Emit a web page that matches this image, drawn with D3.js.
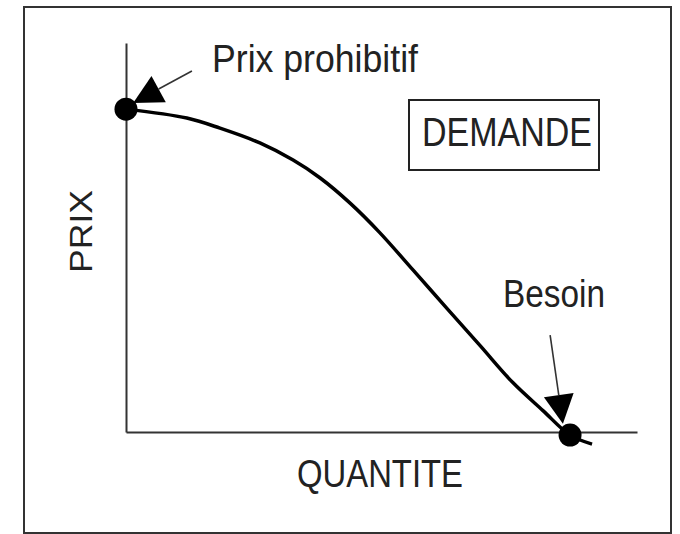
<!DOCTYPE html>
<html>
<head>
<meta charset="utf-8">
<script src="https://cdn.jsdelivr.net/npm/d3@7"></script>
<style>
  body { margin: 0; background: #fff; }
  text { font-family: "Liberation Sans", Arial, sans-serif; fill: #222; }
</style>
</head>
<body>
<div id="chart"></div>
<script>
// demand curve (quantity 0..10, price 0..10)
let quantite = [0, 1.19, 1.84, 2.62, 3.27, 3.80, 4.38, 4.97, 5.62, 6.28, 6.93, 7.57, 8.16, 8.69, 9.12]
let prix     = [8.30, 8.07, 7.81, 7.43, 6.99, 6.53, 5.89, 5.12, 4.16, 3.18, 2.22, 1.27, 0.55, -0.08, -0.31]

// the two marked points
let pointNames = ["Prix prohibitif", "Besoin"]
let pointQ = [0, 8.69]
let pointP = [8.30, -0.08]

// arrows: start of shaft -> tip
let arrowFromQ = [1.29, 8.30]
let arrowFromP = [9.28, 2.49]
let arrowToQ = [0.14, 8.55]
let arrowToP = [8.46, 0.21]

let axisTitles = ["QUANTITE", "PRIX"]
let boxTitle = "DEMANDE"

let width = 680, height = 534
let svg = d3.select("#chart").append("svg")
  .attr("width", width)
  .attr("height", height)

// outer frame
svg.append("rect")
  .attr("x", 24).attr("y", 7)
  .attr("width", 647).attr("height", 526)
  .attr("fill", "none")
  .attr("stroke", "#333")
  .attr("stroke-width", 2)

let x = d3.scaleLinear().domain([0, 10]).range([126, 637])
let y = d3.scaleLinear().domain([0, 10]).range([432, 43])

// axes (no ticks, just the lines)
svg.append("g")
  .attr("transform", `translate(0, ${y(0)})`)
  .call(d3.axisBottom(x).tickValues([]).tickSizeOuter(0))
  .select(".domain").attr("stroke", "#333").attr("stroke-width", 2)
svg.append("g")
  .attr("transform", `translate(${x(0)}, 0)`)
  .call(d3.axisLeft(y).tickValues([]).tickSizeOuter(0))
  .select(".domain").attr("stroke", "#333").attr("stroke-width", 2)

// curve
let curveData = quantite.map((q, i) => ({q: q, p: prix[i]}))
let line = d3.line()
  .x(d => x(d.q))
  .y(d => y(d.p))
  .curve(d3.curveCatmullRom.alpha(0.5))
svg.append("path")
  .datum(curveData)
  .attr("d", line)
  .attr("fill", "none")
  .attr("stroke", "#000")
  .attr("stroke-width", 3.5)

// arrows with big filled heads
arrowFromQ.forEach(function (q0, i) {
  let x0 = x(q0), y0 = y(arrowFromP[i])
  let x1 = x(arrowToQ[i]), y1 = y(arrowToP[i])
  let len = Math.hypot(x1 - x0, y1 - y0)
  let ux = (x1 - x0) / len, uy = (y1 - y0) / len
  let headL = 29, headW = 15
  let bx = x1 - ux * headL, by = y1 - uy * headL
  svg.append("line")
    .attr("x1", x0).attr("y1", y0)
    .attr("x2", bx).attr("y2", by)
    .attr("stroke", "#333")
    .attr("stroke-width", 1.6)
  svg.append("path")
    .attr("d", `M${x1},${y1}L${bx - uy * headW},${by + ux * headW}L${bx + uy * headW},${by - ux * headW}Z`)
    .attr("fill", "#000")
})

// dots
svg.selectAll(".dot")
  .data(pointQ)
  .enter()
  .append("circle")
    .attr("class", "dot")
    .attr("cx", d => x(d))
    .attr("cy", (d, i) => y(pointP[i]))
    .attr("r", 11.5)
    .attr("fill", "#000")

// labels
svg.append("text")
  .attr("x", 212).attr("y", 72)
  .attr("font-size", 39)
  .attr("textLength", 206).attr("lengthAdjust", "spacingAndGlyphs")
  .text(pointNames[0])
svg.append("text")
  .attr("x", 503).attr("y", 307)
  .attr("font-size", 39)
  .attr("textLength", 102).attr("lengthAdjust", "spacingAndGlyphs")
  .text(pointNames[1])

// DEMANDE box
svg.append("rect")
  .attr("x", 409).attr("y", 100)
  .attr("width", 190).attr("height", 70)
  .attr("fill", "none")
  .attr("stroke", "#222")
  .attr("stroke-width", 2)
svg.append("text")
  .attr("x", 422).attr("y", 146)
  .attr("font-size", 40)
  .attr("textLength", 170).attr("lengthAdjust", "spacingAndGlyphs")
  .text(boxTitle)

// axis titles
svg.append("text")
  .attr("x", 297).attr("y", 487)
  .attr("font-size", 38)
  .attr("textLength", 166).attr("lengthAdjust", "spacingAndGlyphs")
  .text(axisTitles[0])
svg.append("text")
  .attr("transform", "translate(92, 273) rotate(-90)")
  .attr("font-size", 32)
  .attr("textLength", 83).attr("lengthAdjust", "spacingAndGlyphs")
  .text(axisTitles[1])
</script>
</body>
</html>
